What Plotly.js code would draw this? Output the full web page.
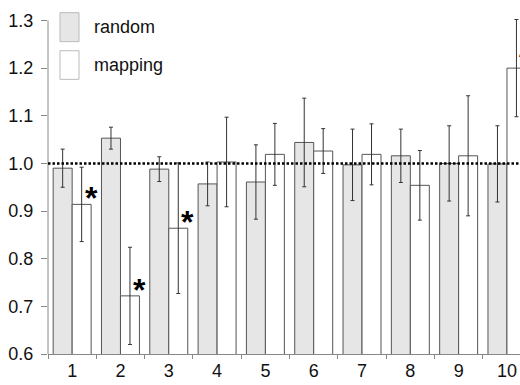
<!DOCTYPE html>
<html>
<head>
<meta charset="utf-8">
<script src="https://cdn.plot.ly/plotly-3.0.1.min.js"></script>
<style>
  html, body { margin: 0; padding: 0; background: #fff; }
  #chart { width: 520px; height: 385px; }
</style>
</head>
<body>
<div id="chart"></div>
<script>
// ---- data ----
const categories = ['1','2','3','4','5','6','7','8','9','10'];
const randomValues = [0.990, 1.053, 0.988, 0.957, 0.961, 1.044, 0.997, 1.016, 1.000, 0.999];
const randomErrors = [0.040, 0.023, 0.026, 0.046, 0.078, 0.093, 0.075, 0.056, 0.079, 0.080];
const mappingValues = [0.914, 0.722, 0.864, 1.003, 1.019, 1.026, 1.019, 0.954, 1.016, 1.200];
const mappingErrors = [0.078, 0.102, 0.137, 0.094, 0.065, 0.047, 0.064, 0.073, 0.126, 0.102];
const mappingStars = ['*', '*', '*', '', '', '', '', '', '', '*'];
const seriesNames = ['random', 'mapping'];
const referenceLevel = 1.0;

// ---- styling ----
const FONT = '"Liberation Sans", Arial, Helvetica, sans-serif';
const BARGAP = 0.214;
const barHalf = (1 - BARGAP) / 2;   // width of one bar in category units
const X_RANGE = [-0.5, 9.27];

const traces = [
  {
    type: 'bar', name: seriesNames[0], x: categories, y: randomValues,
    marker: { color: '#e6e6e6', line: { color: '#555', width: 1 } },
    error_y: { type: 'data', array: randomErrors, visible: true, color: '#333', thickness: 1, width: 2 },
    showlegend: false
  },
  {
    type: 'bar', name: seriesNames[1], x: categories, y: mappingValues,
    marker: { color: '#ffffff', line: { color: '#555', width: 1 } },
    error_y: { type: 'data', array: mappingErrors, visible: true, color: '#333', thickness: 1, width: 2 },
    showlegend: false
  }
];

const annotations = [];
mappingStars.forEach((s, i) => {
  if (!s) return;
  // star sits at the right edge of the mapping bar; paper coords so it is not hidden at the edge
  const px = (i + barHalf - X_RANGE[0]) / (X_RANGE[1] - X_RANGE[0]);
  annotations.push({
    x: px, y: mappingValues[i], xref: 'paper', yref: 'y',
    text: '<b>' + s + '</b>', showarrow: false, xanchor: 'center', yanchor: 'middle',
    yshift: 6, font: { family: FONT, size: 32, color: '#000' }
  });
});
// legend text
annotations.push({ x: 0.0926, y: 0.937, xref: 'paper', yref: 'paper', text: seriesNames[0],
  showarrow: false, xanchor: 'left', yanchor: 'middle', font: { family: FONT, size: 18, color: '#111' } });
annotations.push({ x: 0.0926, y: 0.828, xref: 'paper', yref: 'paper', text: seriesNames[1],
  showarrow: false, xanchor: 'left', yanchor: 'middle', font: { family: FONT, size: 18, color: '#111' } });

const shapes = [
  // y axis line from 0.6 to 1.3
  { type: 'line', xref: 'paper', yref: 'y', x0: 0, x1: 0, y0: 0.6, y1: 1.3, line: { color: '#888', width: 1 } },
  // dotted reference line
  { type: 'line', xref: 'paper', yref: 'y', x0: 0, x1: 1, y0: referenceLevel, y1: referenceLevel,
    line: { color: '#000', width: 2.5, dash: '2.5px,2px' }, layer: 'above' },
  // legend swatches
  { type: 'rect', xref: 'paper', yref: 'paper', x0: 0.0254, x1: 0.0657, y0: 0.895, y1: 0.978,
    fillcolor: '#e6e6e6', line: { color: '#bbb', width: 1 } },
  { type: 'rect', xref: 'paper', yref: 'paper', x0: 0.0254, x1: 0.0657, y0: 0.787, y1: 0.869,
    fillcolor: '#ffffff', line: { color: '#bbb', width: 1 } }
];

const layout = {
  width: 520, height: 385,
  margin: { l: 48, r: 0, t: 5, b: 31 },
  paper_bgcolor: '#fff', plot_bgcolor: '#fff',
  barmode: 'group', bargap: BARGAP, bargroupgap: 0,
  font: { family: FONT, size: 18, color: '#111' },
  xaxis: {
    type: 'category', range: X_RANGE,
    tickson: 'boundaries', ticks: 'outside', ticklen: 4, tickcolor: '#888', tickwidth: 1,
    showline: true, linecolor: '#888', linewidth: 1,
    showgrid: false, zeroline: false,
    tickfont: { family: FONT, size: 18, color: '#111' }
  },
  yaxis: {
    range: [0.6, 1.3325], tick0: 0.6, dtick: 0.1, tickformat: '.1f',
    ticks: 'outside', ticklen: 6, tickcolor: '#888', tickwidth: 1,
    showline: false, showgrid: false, zeroline: false,
    ticklabelstandoff: 4,
    tickfont: { family: FONT, size: 18, color: '#111' }
  },
  shapes: shapes,
  annotations: annotations
};

Plotly.newPlot('chart', traces, layout, { displayModeBar: false, staticPlot: true });
</script>
</body>
</html>
